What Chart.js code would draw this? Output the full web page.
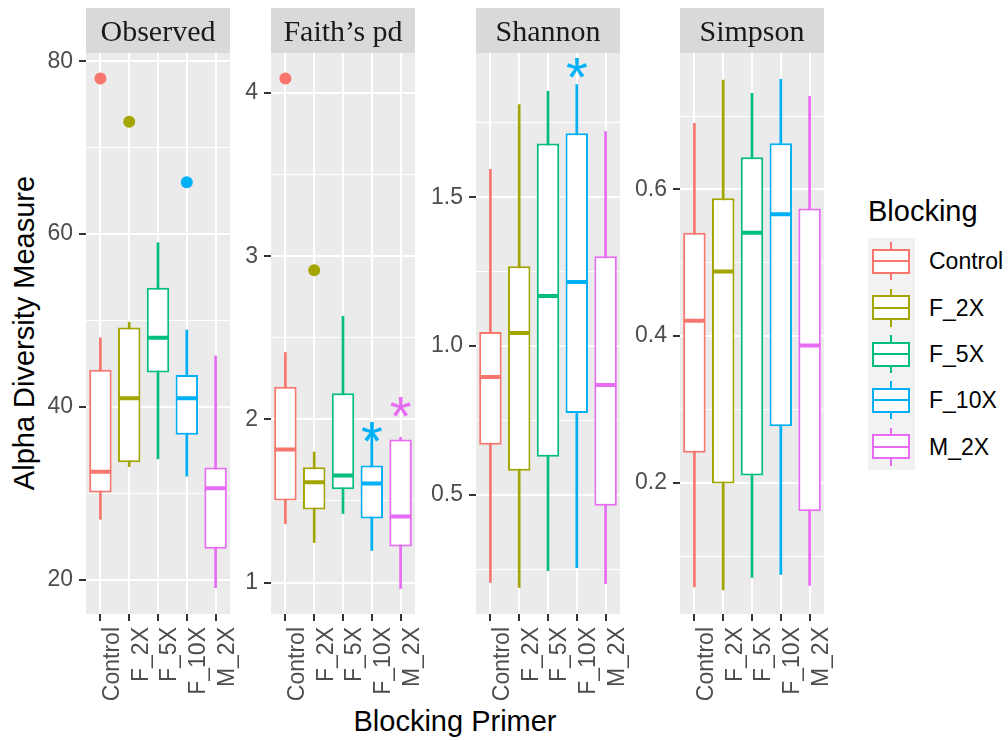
<!DOCTYPE html>
<html>
<head>
<meta charset="utf-8">
<script src="https://cdn.jsdelivr.net/npm/chart.js@4.4.1/dist/chart.umd.min.js"></script>
<style>
  body { margin: 0; background: #fff; width: 1008px; height: 740px; position: relative; overflow: hidden;
         font-family: "Liberation Sans", Arial, sans-serif; }
  canvas.panel { position: absolute; top: 0; }
  .title { position: absolute; font-size: 29px; line-height: 29px; color: #000; white-space: nowrap; }
  #ytitle { left: 24px; top: 333px; transform: translate(-50%, -50%) rotate(-90deg); }
  #xtitle { left: 455px; top: 707px; transform: translateX(-50%); }
  #legtitle { left: 868px; top: 197px; }
  #keys { position: absolute; left: 868px; top: 238px; width: 47px; height: 232px; background: #F2F2F2; }
  .legtext { position: absolute; left: 929px; font-size: 23px; line-height: 23px; color: #000; transform: translateY(-50%); }
</style>
</head>
<body>
<div class="title" id="ytitle">Alpha Diversity Measure</div>
<div class="title" id="xtitle">Blocking Primer</div>
<div class="title" id="legtitle">Blocking</div>
<div id="keys"></div>

<script>
/* ================================
   DATA
   ================================ */
const categories = ["Control", "F_2X", "F_5X", "F_10X", "M_2X"];
const colours = ["#F8766D", "#A3A500", "#00BF7D", "#00B0F6", "#E76BF3"];
const measures = ["Observed", "Faith\u2019s pd", "Shannon", "Simpson"];

// Observed
const observedLow = [27.0, 33.1, 34.0, 32.0, 19.1];
const observedQ1 = [30.1, 33.6, 44.0, 36.8, 23.6];
const observedMedian = [32.5, 41.0, 48.0, 41.0, 30.6];
const observedQ3 = [44.3, 49.2, 53.8, 43.7, 33.0];
const observedHigh = [48.0, 49.8, 59.0, 48.9, 45.9];
const observedOutliers = [78, 73, null, 66, null];

// Faith's pd
const faithLow = [1.36, 1.245, 1.423, 1.196, 0.963];
const faithQ1 = [1.503, 1.448, 1.571, 1.393, 1.221];
const faithMedian = [1.816, 1.614, 1.656, 1.607, 1.405];
const faithQ3 = [2.20, 1.706, 2.16, 1.718, 1.877];
const faithHigh = [2.41, 1.80, 2.632, 1.97, 1.89];
const faithOutliers = [4.09, 2.914, null, null, null];
const faithStarCats = ["F_10X", "M_2X"];
const faithStarValues = [1.92, 2.074];

// Shannon
const shannonLow = [0.205, 0.188, 0.245, 0.255, 0.201];
const shannonQ1 = [0.668, 0.581, 0.628, 0.775, 0.463];
const shannonMedian = [0.896, 1.044, 1.168, 1.215, 0.869];
const shannonQ3 = [1.047, 1.268, 1.681, 1.715, 1.302];
const shannonHigh = [1.594, 1.812, 1.856, 1.879, 1.721];
const shannonStarCats = ["F_10X"];
const shannonStarValues = [1.936];

// Simpson
const simpsonLow = [0.058, 0.054, 0.071, 0.075, 0.060];
const simpsonQ1 = [0.241, 0.199, 0.210, 0.277, 0.161];
const simpsonMedian = [0.421, 0.488, 0.541, 0.566, 0.387];
const simpsonQ3 = [0.541, 0.588, 0.644, 0.663, 0.574];
const simpsonHigh = [0.690, 0.749, 0.731, 0.750, 0.727];

// axis limits and ticks per facet
const yMins = [16.05, 0.807, 0.099, 0.021];
const yMaxs = [80.95, 4.246, 1.985, 0.786];
const majorTicks = [[20, 40, 60, 80], [1, 2, 3, 4], [0.5, 1.0, 1.5], [0.2, 0.4, 0.6]];
const majorLabels = [["20", "40", "60", "80"], ["1", "2", "3", "4"], ["0.5", "1.0", "1.5"], ["0.2", "0.4", "0.6"]];
const minorTicks = [[30, 50, 70], [1.5, 2.5, 3.5], [0.25, 0.75, 1.25, 1.75], [0.1, 0.3, 0.5, 0.7]];

/* ================================
   LAYOUT
   ================================ */
const panelLefts = [86, 271, 476, 680];
const panelWidth = 144;
const yAxisWidth = 60;
const rightRoom = 24; // room for the last rotated tick label
const FONT = "'Liberation Sans', Arial, sans-serif";

const facets = [
  { low: observedLow, q1: observedQ1, med: observedMedian, q3: observedQ3, high: observedHigh, out: observedOutliers, starCats: [], starVals: [] },
  { low: faithLow, q1: faithQ1, med: faithMedian, q3: faithQ3, high: faithHigh, out: faithOutliers, starCats: faithStarCats, starVals: faithStarValues },
  { low: shannonLow, q1: shannonQ1, med: shannonMedian, q3: shannonQ3, high: shannonHigh, out: null, starCats: shannonStarCats, starVals: shannonStarValues },
  { low: simpsonLow, q1: simpsonQ1, med: simpsonMedian, q3: simpsonQ3, high: simpsonHigh, out: null, starCats: [], starVals: [] }
];

// grey panel background, facet strip and significance stars
const facetPlugin = {
  id: "facet",
  beforeDraw(chart) {
    const { ctx, chartArea: a } = chart;
    ctx.save();
    ctx.fillStyle = "#EBEBEB";
    ctx.fillRect(a.left, a.top, a.right - a.left, a.bottom - a.top);
    ctx.fillStyle = "#D9D9D9";
    ctx.fillRect(a.left, 8, a.right - a.left, a.top - 8);
    ctx.fillStyle = "#1A1A1A";
    ctx.font = "30px 'Liberation Serif', 'Times New Roman', serif";
    ctx.textAlign = "center";
    ctx.textBaseline = "middle";
    ctx.fillText(chart.options.plugins.facet.title, (a.left + a.right) / 2, (8 + a.top) / 2 + 3);
    ctx.restore();
  },
  afterDatasetsDraw(chart) {
    const opts = chart.options.plugins.facet;
    const { ctx, scales } = chart;
    ctx.save();
    ctx.font = "56px " + FONT;
    ctx.textAlign = "center";
    const m = ctx.measureText("*");
    opts.starCats.forEach((c, i) => {
      const idx = categories.indexOf(c);
      const px = scales.x.getPixelForValue(idx);
      const py = scales.y.getPixelForValue(opts.starVals[i]);
      ctx.fillStyle = colours[idx];
      ctx.fillText("*", px, py + (m.actualBoundingBoxAscent - m.actualBoundingBoxDescent) / 2);
    });
    ctx.restore();
  }
};

function renderFacet(k) {
  const f = facets[k];
  const canvas = document.createElement("canvas");
  canvas.className = "panel";
  canvas.width = yAxisWidth + panelWidth + rightRoom;
  canvas.height = 740;
  canvas.style.left = (panelLefts[k] - yAxisWidth) + "px";
  document.body.appendChild(canvas);

  const allTicks = majorTicks[k].concat(minorTicks[k]).sort((a, b) => a - b);
  const isMinor = (v) => minorTicks[k].indexOf(v) !== -1;

  const datasets = [
    {
      type: "bar", order: 3, grouped: false,
      data: categories.map((c, i) => [f.low[i], f.high[i]]),
      backgroundColor: colours, borderWidth: 0,
      barPercentage: 1, categoryPercentage: 1, maxBarThickness: 2
    },
    {
      type: "bar", order: 2, grouped: false,
      data: categories.map((c, i) => [f.q1[i], f.q3[i]]),
      backgroundColor: "#FFFFFF", borderColor: colours, borderWidth: 2, borderSkipped: false,
      barPercentage: 0.78, categoryPercentage: 1
    },
    {
      type: "line", order: 1, showLine: false,
      data: f.med,
      pointStyle: "line", pointRadius: 10.8, pointBorderWidth: 4, pointBorderColor: colours
    }
  ];
  if (f.out) {
    datasets.push({
      type: "line", order: 0, showLine: false,
      data: f.out,
      pointRadius: 6, pointBorderWidth: 0, pointBackgroundColor: colours
    });
  }

  new Chart(canvas.getContext("2d"), {
    type: "bar",
    data: { labels: categories, datasets: datasets },
    plugins: [facetPlugin],
    options: {
      responsive: false,
      animation: false,
      events: [],
      layout: { autoPadding: false, padding: { top: 53, left: 0, right: rightRoom, bottom: 0 } },
      plugins: {
        legend: { display: false },
        tooltip: { enabled: false },
        facet: { title: measures[k], starCats: f.starCats, starVals: f.starVals }
      },
      scales: {
        x: {
          offset: true,
          grid: { offset: false, color: "#FFFFFF", lineWidth: 2, tickColor: "#333333", tickWidth: 2, tickLength: 7 },
          border: { display: false },
          ticks: { color: "#4D4D4D", font: { family: FONT, size: 23 }, minRotation: 90, maxRotation: 90, autoSkip: false, padding: 6, labelOffset: 12 },
          afterFit: (s) => { s.height = 126; s.paddingLeft = 0; s.paddingRight = 0; }
        },
        y: {
          min: yMins[k],
          max: yMaxs[k],
          afterBuildTicks: (s) => { s.ticks = allTicks.map((v) => ({ value: v })); },
          grid: {
            color: "#FFFFFF",
            lineWidth: (c) => (c.tick && isMinor(c.tick.value) ? 1 : 2),
            tickColor: (c) => (c.tick && isMinor(c.tick.value) ? "rgba(0,0,0,0)" : "#333333"),
            tickWidth: 2, tickLength: 7
          },
          border: { display: false },
          ticks: {
            color: "#4D4D4D", font: { family: FONT, size: 23 }, padding: 6, autoSkip: false,
            callback: (v) => {
              const j = majorTicks[k].indexOf(v);
              return j === -1 ? "" : majorLabels[k][j];
            }
          },
          afterFit: (s) => { s.width = yAxisWidth; s.paddingTop = 0; s.paddingBottom = 0; }
        }
      }
    }
  });
}

facets.forEach((f, k) => renderFacet(k));

/* ================================
   LEGEND
   ================================ */
const keys = document.getElementById("keys");
categories.forEach((c, i) => {
  const cy = 23.2 + 46.4 * i;
  const whisker = document.createElement("div");
  whisker.style.cssText = `position:absolute;left:22px;width:2px;top:${cy - 19}px;height:38px;background:${colours[i]};`;
  const box = document.createElement("div");
  box.style.cssText = `position:absolute;left:4px;width:38px;top:${cy - 12.5}px;height:25px;box-sizing:border-box;border:2px solid ${colours[i]};background:#fff;`;
  const med = document.createElement("div");
  med.style.cssText = `position:absolute;left:0;right:0;top:9.5px;height:2px;background:${colours[i]};`;
  box.appendChild(med);
  keys.appendChild(whisker);
  keys.appendChild(box);

  const label = document.createElement("div");
  label.className = "legtext";
  label.style.top = (238 + cy) + "px";
  label.textContent = c;
  document.body.appendChild(label);
});
</script>
</body>
</html>
